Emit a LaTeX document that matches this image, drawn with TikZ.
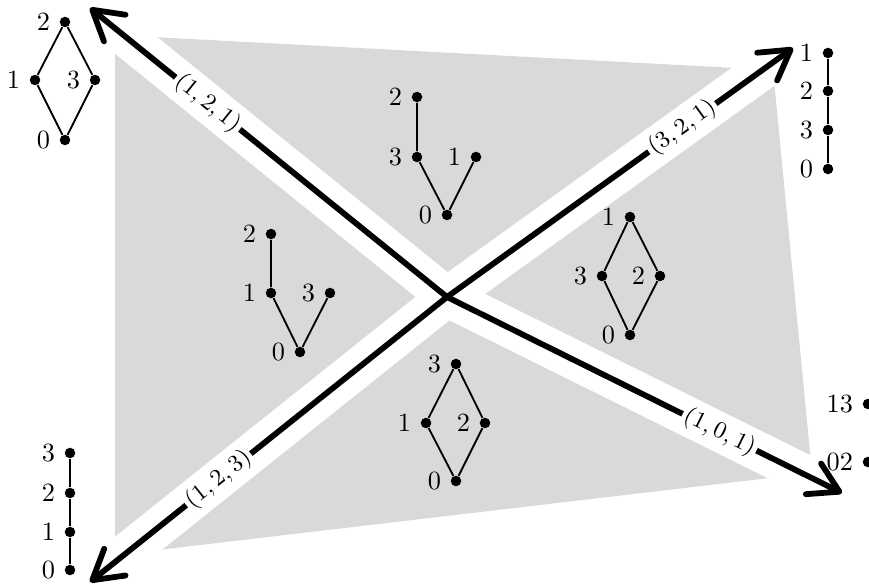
\documentclass[tikz,border=0pt]{standalone}
\usepackage{amsmath}
\usetikzlibrary{arrows.meta}
\definecolor{greyfill}{gray}{0.85}
\tikzset{
  ray/.style={line width=2.2pt,-{Straight Barb[length=11pt,width=13pt,round]}},
  halo/.style={line width=15pt,white},
  rlab/.style={sloped,fill=white,inner sep=1pt,font=\small},
  vtx/.style={circle,fill,inner sep=0pt,minimum size=4pt},
  hasse/.style={line width=0.7pt}
}

\begin{document}
\begin{tikzpicture}[x=0.38pt,y=-0.38pt]
  \useasboundingbox (0,0) rectangle (869,585);
  \fill[greyfill] (115,35) -- (773,70) -- (812,473) -- (115,555) -- cycle;
  % rays from the centre
  \coordinate (o) at (447,297);
  \coordinate (tl) at (90,8);   \coordinate (tr) at (793,48);
  \coordinate (bl) at (90,582); \coordinate (br) at (842,493);
  \foreach \t in {tl,tr,bl,br} \draw[halo] (o) -- (\t);
  \draw[ray] (o) -- (tl) node[rlab,pos=0.67] {$(1,2,1)$};
  \draw[ray] (o) -- (tr) node[rlab,pos=0.68] {$(3,2,1)$};
  \draw[ray] (o) -- (bl) node[rlab,pos=0.64] {$(1,2,3)$};
  \draw[ray] (o) -- (br) node[rlab,pos=0.69] {$(1,0,1)$};
  % top left
  \node[vtx,label=left:$2$] (p2) at (65,22) {};
  \node[vtx,label=left:$1$] (p1) at (35,80) {};
  \node[vtx,label=left:$3$] (p3) at (95,80) {};
  \node[vtx,label=left:$0$] (p0) at (65,140) {};
  \draw[hasse] (p0) -- (p1) -- (p2) -- (p3) -- (p0);
  % top right
  \node[vtx,label=left:$1$] (q1) at (828,53) {};
  \node[vtx,label=left:$2$] (q2) at (828,91) {};
  \node[vtx,label=left:$3$] (q3) at (828,130) {};
  \node[vtx,label=left:$0$] (q0) at (828,169) {};
  \draw[hasse] (q0) -- (q3) -- (q2) -- (q1);
  % bottom left
  \node[vtx,label=left:$3$] (r3) at (70,453) {};
  \node[vtx,label=left:$2$] (r2) at (70,493) {};
  \node[vtx,label=left:$1$] (r1) at (70,532) {};
  \node[vtx,label=left:$0$] (r0) at (70,570) {};
  \draw[hasse] (r0) -- (r1) -- (r2) -- (r3);
  % bottom right
  \node[vtx,label=left:$13$] (s13) at (868,404) {};
  \node[vtx,label=left:$02$] (s02) at (868,462) {};
  % centre top
  \node[vtx,label=left:$2$] (a2) at (417,97) {};
  \node[vtx,label=left:$3$] (a3) at (417,157) {};
  \node[vtx,label=left:$1$] (a1) at (476,157) {};
  \node[vtx,label=left:$0$] (a0) at (447,215) {};
  \draw[hasse] (a2) -- (a3) -- (a0) -- (a1);
  % centre left
  \node[vtx,label=left:$2$] (b2) at (271,234) {};
  \node[vtx,label=left:$1$] (b1) at (271,293) {};
  \node[vtx,label=left:$3$] (b3) at (330,293) {};
  \node[vtx,label=left:$0$] (b0) at (300,352) {};
  \draw[hasse] (b2) -- (b1) -- (b0) -- (b3);
  % centre right
  \node[vtx,label=left:$1$] (c1) at (630,217) {};
  \node[vtx,label=left:$3$] (c3) at (602,276) {};
  \node[vtx,label=left:$2$] (c2) at (660,276) {};
  \node[vtx,label=left:$0$] (c0) at (630,335) {};
  \draw[hasse] (c0) -- (c3) -- (c1) -- (c2) -- (c0);
  % centre bottom
  \node[vtx,label=left:$3$] (d3) at (456,364) {};
  \node[vtx,label=left:$1$] (d1) at (426,423) {};
  \node[vtx,label=left:$2$] (d2) at (485,423) {};
  \node[vtx,label=left:$0$] (d0) at (456,481) {};
  \draw[hasse] (d0) -- (d1) -- (d3) -- (d2) -- (d0);
\end{tikzpicture}
\end{document}
